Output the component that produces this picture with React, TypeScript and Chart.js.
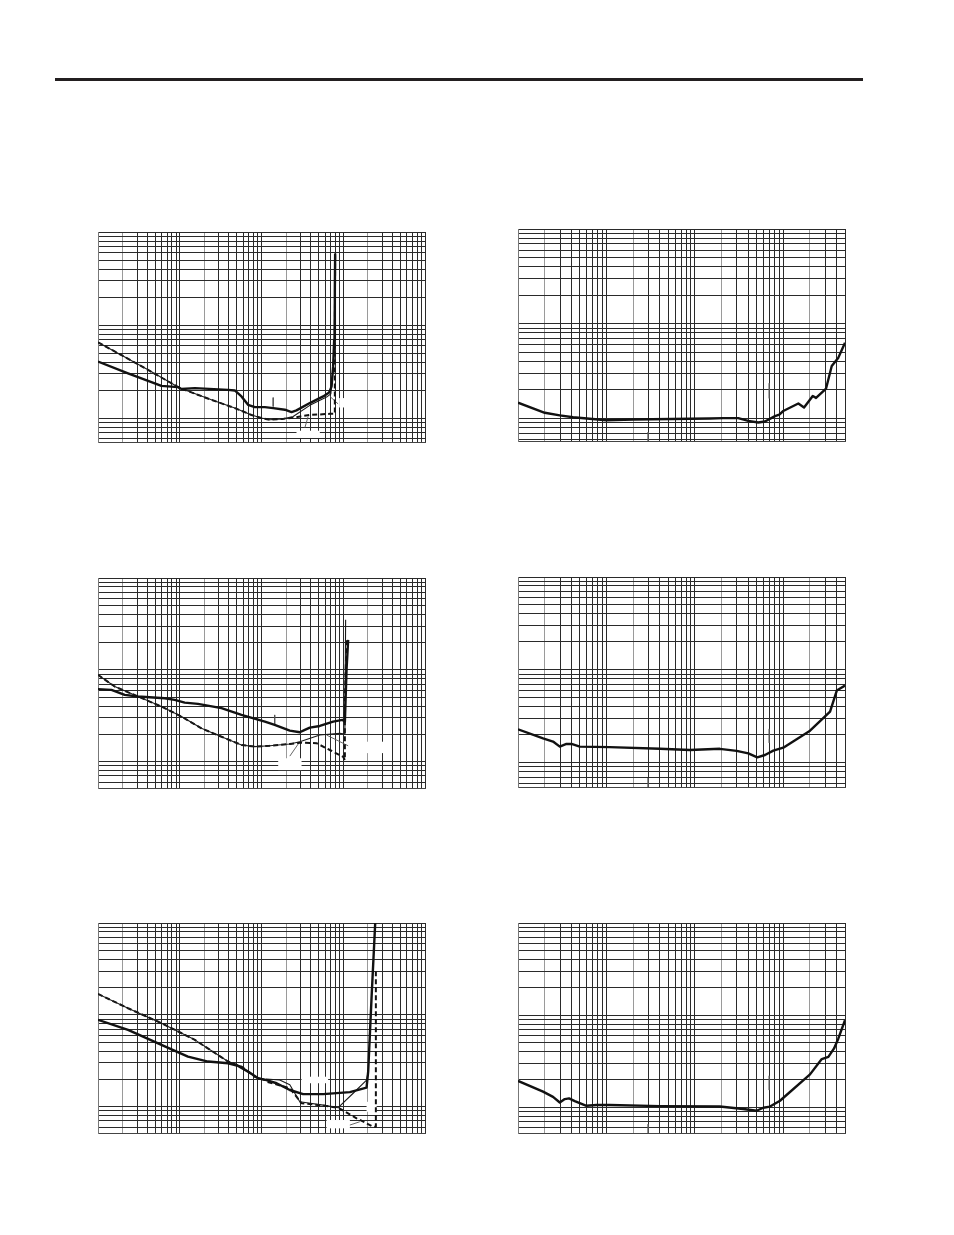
import React, { useEffect, useRef } from "react";
import { Chart, registerables } from "chart.js";

Chart.register(...registerables);

// ---------- Plot 1 (top left) ----------
const p1ThickX = [1, 2.33, 5.97, 9.53, 10.5, 15.3, 39, 47.1, 56.9, 68.5, 82.8, 110, 139, 193, 233, 268, 390, 568, 672, 719, 752, 774, 789, 796];
const p1ThickY = [4.05, 3.03, 2.22, 2.15, 2.05, 2.1, 2.01, 1.98, 1.71, 1.39, 1.31, 1.31, 1.28, 1.23, 1.16, 1.21, 1.45, 1.71, 1.88, 2.18, 3.57, 6.9, 23.7, 58.7];
const p1ThinX = [1, 2.02, 4.09, 10, 24.4, 47.1, 75.5, 100, 126, 184, 244, 390, 625, 705, 767, 796];
const p1ThinY = [6.53, 4.65, 3.3, 2.1, 1.57, 1.28, 1.08, 1.0, 0.96, 0.98, 1.04, 1.37, 1.68, 1.82, 4.22, 58.7];
const p1DashX = [1, 2.02, 4.09, 10, 24.4, 47.1, 75.5, 100, 126, 184, 244, 390, 686, 789, 789, 796];
const p1DashY = [6.53, 4.65, 3.3, 2.1, 1.57, 1.28, 1.08, 1.0, 0.96, 0.98, 1.01, 1.08, 1.11, 1.11, 6.9, 58.7];
const p1Leaders = [[139, 1.66, 139, 1.33], [339, 0.787, 372, 1.04], [686, 1.71, 865, 1.42]];
const p1Masks = [[268, 517, 0.611, 0.731], [891, 1097, 1.3, 1.64]];

// ---------- Plot 2 (top right) ----------
const p2X = [1, 2.01, 2.97, 4.2, 10.0, 20.1, 148, 210, 310, 403, 522, 622, 807, 903, 1002, 1483, 1721, 2158, 2352, 3053, 3540, 4207, 5000];
const p2Y = [1.47, 1.15, 1.08, 1.03, 0.96, 0.976, 1.0, 1.01, 1.01, 0.944, 0.908, 0.929, 1.06, 1.1, 1.2, 1.44, 1.31, 1.73, 1.65, 2.07, 3.58, 4.39, 6.31];
const p2Leaders = [[696, 2.36, 696, 1.63], [29.7, 0.72, 29.7, 0.5]];

// ---------- Plot 3 (middle left) ----------
const p3ThickX = [1, 1.46, 2.12, 3.09, 6.55, 8.69, 11.5, 16.7, 32.4, 56.9, 110, 145, 222, 294, 339, 390, 517, 752, 980, 1047, 1097, 1148];
const p3ThickY = [6.16, 6.05, 5.34, 5.12, 4.91, 4.71, 4.4, 4.26, 3.83, 3.23, 2.73, 2.51, 2.18, 2.09, 2.22, 2.35, 2.45, 2.73, 2.85, 2.73, 10, 21.2];
const p3ThinX = [1, 1.6, 3.09, 5.97, 10.5, 18.4, 32.4, 56.9, 82.8, 126, 222, 294, 517, 910, 1047, 1069];
const p3ThinY = [8.82, 6.58, 5.12, 3.98, 3.1, 2.31, 1.87, 1.52, 1.46, 1.49, 1.56, 1.65, 1.95, 2.04, 2.0, 35.1];
const p3DashX = [1, 1.6, 3.09, 5.97, 10.5, 18.4, 32.4, 56.9, 82.8, 126, 222, 294, 471, 686, 997, 1047, 1047, 1097];
const p3DashY = [8.82, 6.58, 5.12, 3.98, 3.1, 2.31, 1.87, 1.52, 1.46, 1.49, 1.56, 1.61, 1.59, 1.34, 1.13, 1.04, 4.71, 21.2];
const p3Leaders = [[145, 3.23, 145, 2.51], [625, 1.95, 1148, 1.49], [294, 1.65, 222, 1.15]];
const p3Masks = [[160, 309, 0.81, 1.09], [1928, 3076, 1.24, 1.65]];

// ---------- Plot 4 (middle right) ----------
const p4X = [1, 1.92, 2.49, 2.97, 3.53, 4.03, 5.0, 10.9, 40.3, 88, 192, 297, 403, 509, 622, 773, 1002, 2011, 3388, 4036, 5000];
const p4Y = [2.29, 1.83, 1.69, 1.49, 1.59, 1.59, 1.49, 1.47, 1.41, 1.37, 1.41, 1.34, 1.26, 1.14, 1.21, 1.35, 1.45, 2.21, 3.55, 5.98, 6.77];
const p4Leaders = [[696, 2.31, 696, 1.63], [29.7, 0.684, 29.7, 0.5]];

// ---------- Plot 5 (bottom left) ----------
const p5ThickX = [1, 2.33, 5.97, 12.6, 22.2, 39, 51.7, 68.5, 90.9, 115, 153, 222, 323, 568, 1205, 1928, 2018, 2218, 2460];
const p5ThickY = [8.82, 6.86, 4.71, 3.51, 3.1, 2.97, 2.78, 2.41, 2.04, 1.95, 1.8, 1.52, 1.37, 1.37, 1.44, 1.61, 2.41, 15.2, 100];
const p5ThinX = [1, 2.33, 5.97, 15.3, 39, 56.9, 82.8, 110, 115, 167, 222, 294, 568, 867, 1322, 1928, 2018];
const p5ThinY = [16.9, 11.8, 8.12, 5.34, 3.1, 2.73, 2.12, 1.95, 2.0, 1.95, 1.73, 1.13, 1.04, 0.975, 1.4, 1.95, 2.41];
const p5DashX = [1, 2.33, 5.97, 15.3, 39, 56.9, 82.8, 110, 115, 222, 309, 568, 867, 1456, 2323, 2506, 2506];
const p5DashY = [16.9, 11.8, 8.12, 5.34, 3.1, 2.73, 2.12, 1.95, 1.87, 1.59, 1.09, 1.03, 0.975, 0.748, 0.605, 0.605, 29.7];
const p5Leaders = [[1205, 0.631, 1596, 0.686]];
const p5Masks = [[309, 653, 1.8, 2.12], [625, 1205, 0.581, 0.716], [1928, 2557, 0.88, 1.13]];

// ---------- Plot 6 (bottom right) ----------
const p6X = [1, 1.92, 2.49, 2.97, 3.38, 3.78, 4.39, 5.95, 7.73, 10.9, 40.3, 192, 353, 501, 595, 709, 920, 2011, 2729, 3243, 3760, 4207, 5000];
const p6Y = [1.94, 1.48, 1.3, 1.13, 1.23, 1.25, 1.17, 1.04, 1.06, 1.06, 1.03, 1.02, 0.96, 0.918, 0.99, 1.02, 1.18, 2.28, 3.34, 3.53, 4.36, 5.59, 8.83];
const p6Leaders = [[696, 2.2, 696, 1.54], [29.7, 0.659, 29.7, 0.5]];

type XY = { x: number; y: number };
type Kind = "thick" | "thin" | "dash" | "lead";
const zip = (xs: number[], ys: number[]): XY[] => xs.map((x, i) => ({ x, y: ys[i] }));

interface PlotSpec {
  left: number;
  top: number;
  w: number;
  h: number;
  xMax: number;
  yMin: number;
  series: { data: XY[]; kind: Kind }[];
  masks: number[][];
}

const leaderSeries = (list: number[][]) =>
  list.map((l) => ({ data: [{ x: l[0], y: l[1] }, { x: l[2], y: l[3] }], kind: "lead" as Kind }));

const plots: PlotSpec[] = [
  {
    left: 98, top: 232, w: 327, h: 210, xMax: 10000, yMin: 0.553,
    series: [
      { data: zip(p1ThickX, p1ThickY), kind: "thick" },
      { data: zip(p1ThinX, p1ThinY), kind: "thin" },
      { data: zip(p1DashX, p1DashY), kind: "dash" },
      ...leaderSeries(p1Leaders),
    ],
    masks: p1Masks,
  },
  {
    left: 518, top: 229, w: 327, h: 212, xMax: 5000, yMin: 0.579,
    series: [{ data: zip(p2X, p2Y), kind: "thick" }, ...leaderSeries(p2Leaders)],
    masks: [],
  },
  {
    left: 98, top: 578, w: 327, h: 210, xMax: 10000, yMin: 0.517,
    series: [
      { data: zip(p3ThickX, p3ThickY), kind: "thick" },
      { data: zip(p3ThinX, p3ThinY), kind: "thin" },
      { data: zip(p3DashX, p3DashY), kind: "dash" },
      ...leaderSeries(p3Leaders),
    ],
    masks: p3Masks,
  },
  {
    left: 518, top: 577, w: 327, h: 210, xMax: 5000, yMin: 0.547,
    series: [{ data: zip(p4X, p4Y), kind: "thick" }, ...leaderSeries(p4Leaders)],
    masks: [],
  },
  {
    left: 98, top: 923, w: 327, h: 210, xMax: 10000, yMin: 0.517,
    series: [
      { data: zip(p5ThickX, p5ThickY), kind: "thick" },
      { data: zip(p5ThinX, p5ThinY), kind: "thin" },
      { data: zip(p5DashX, p5DashY), kind: "dash" },
      ...leaderSeries(p5Leaders),
    ],
    masks: p5Masks,
  },
  {
    left: 518, top: 923, w: 327, h: 210, xMax: 5000, yMin: 0.527,
    series: [{ data: zip(p6X, p6Y), kind: "thick" }, ...leaderSeries(p6Leaders)],
    masks: [],
  },
];

function logTicks(min: number, max: number): number[] {
  const out: number[] = [];
  for (let e = Math.floor(Math.log10(min)); e <= Math.ceil(Math.log10(max)); e++) {
    for (let s = 1; s <= 9; s++) {
      const v = Number((s * Math.pow(10, e)).toPrecision(6));
      if (v >= min * 0.9999 && v <= max * 1.0001) out.push(v);
    }
  }
  return out;
}

function sigOf(v: number): number {
  const e = Math.floor(Math.log10(v) + 1e-9);
  return Math.round(v / Math.pow(10, e));
}

const PAD = 2;

function makeMaskPlugin(masks: number[][]) {
  return {
    id: "masks",
    beforeDatasetsDraw(chart: any) {
      const { ctx, scales } = chart;
      ctx.save();
      ctx.fillStyle = "#ffffff";
      for (const m of masks) {
        const x1 = scales.x.getPixelForValue(m[0]);
        const x2 = scales.x.getPixelForValue(m[1]);
        const y1 = scales.y.getPixelForValue(m[2]);
        const y2 = scales.y.getPixelForValue(m[3]);
        ctx.fillRect(Math.min(x1, x2), Math.min(y1, y2), Math.abs(x2 - x1), Math.abs(y2 - y1));
      }
      ctx.restore();
    },
  };
}

function Plot({ spec }: { spec: PlotSpec }) {
  const ref = useRef<HTMLCanvasElement | null>(null);
  useEffect(() => {
    if (!ref.current) return;
    const xTicks = logTicks(1, spec.xMax);
    const yTicks = logTicks(spec.yMin, 100);
    const datasets = spec.series.map((s) => {
      const base: any = {
        data: s.data,
        pointRadius: 0,
        tension: 0,
        fill: false,
        borderCapStyle: "butt",
        borderJoinStyle: "round",
      };
      if (s.kind === "thick") return { ...base, borderColor: "#111111", borderWidth: 2.4 };
      if (s.kind === "thin") return { ...base, borderColor: "#1a1a1a", borderWidth: 1.1 };
      if (s.kind === "dash") return { ...base, borderColor: "#111111", borderWidth: 2, borderDash: [5, 3] };
      return { ...base, borderColor: "#555555", borderWidth: 0.9 };
    });
    const chart = new Chart(ref.current, {
      type: "line",
      data: { datasets },
      plugins: [makeMaskPlugin(spec.masks)],
      options: {
        animation: false,
        responsive: false,
        maintainAspectRatio: false,
        events: [],
        layout: { padding: PAD },
        plugins: { legend: { display: false }, tooltip: { enabled: false } },
        scales: {
          x: {
            type: "logarithmic",
            min: 1,
            max: spec.xMax,
            afterBuildTicks: (scale: any) => {
              scale.ticks = xTicks.map((v) => ({ value: v }));
            },
            ticks: { display: false },
            grid: {
              drawTicks: false,
              lineWidth: 1,
              color: (c: any) => {
                const v = c.tick ? c.tick.value : 1;
                return sigOf(v) === 2 ? "#9a9a9a" : "#2a2a2a";
              },
            },
            border: { display: true, color: "#444444", width: 1 },
          },
          y: {
            type: "logarithmic",
            min: spec.yMin,
            max: 100,
            afterBuildTicks: (scale: any) => {
              scale.ticks = yTicks.map((v) => ({ value: v }));
            },
            ticks: { display: false },
            grid: { drawTicks: false, lineWidth: 1, color: "#2a2a2a" },
            border: { display: true, color: "#777777", width: 1 },
          },
        },
      } as any,
    });
    return () => chart.destroy();
  }, [spec]);
  const cw = spec.w + PAD * 2;
  const chh = spec.h + PAD * 2;
  return (
    <canvas
      ref={ref}
      width={cw}
      height={chh}
      style={{
        position: "absolute",
        left: spec.left - PAD,
        top: spec.top - PAD,
        width: cw,
        height: chh,
      }}
    />
  );
}

export default function App() {
  return (
    <div
      style={{
        position: "absolute",
        left: 0,
        top: 0,
        width: 954,
        height: 1235,
        background: "#ffffff",
        overflow: "hidden",
      }}
    >
      <div
        style={{
          position: "absolute",
          left: 55,
          top: 78,
          width: 808,
          height: 3,
          background: "#231f20",
        }}
      />
      {plots.map((p, i) => (
        <Plot key={i} spec={p} />
      ))}
    </div>
  );
}
